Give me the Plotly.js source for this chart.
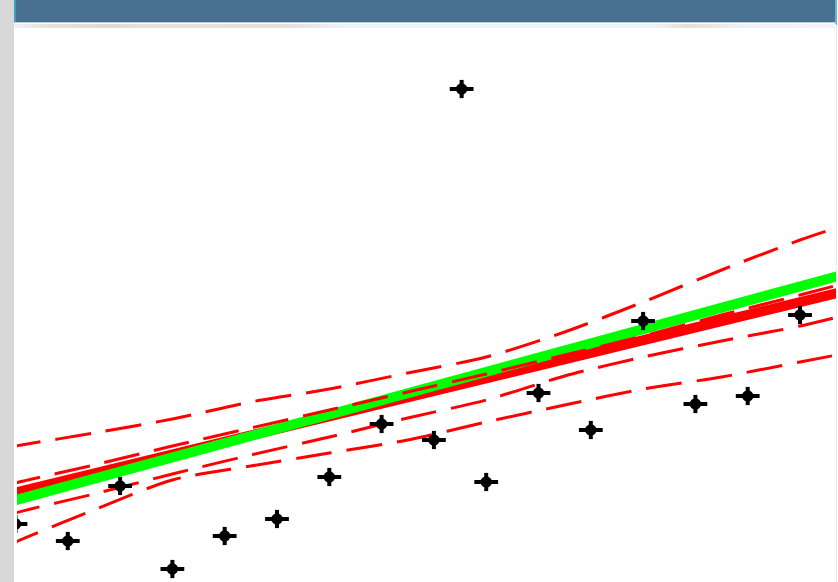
<!DOCTYPE html>
<html>
<head>
<meta charset="utf-8">
<script src="https://cdn.plot.ly/plotly-3.0.1.min.js"></script>
<style>
  html, body { margin: 0; padding: 0; background: #ffffff; }
  #page { position: relative; width: 838px; height: 582px; overflow: hidden; background: #ffffff; }
  #side { position: absolute; left: 0; top: 0; width: 14px; height: 582px; background: #d8d8d8; }
  #bar { position: absolute; left: 14px; top: 0; width: 822px; height: 22px; background: #4a7090; }
  #barEdgeL { position: absolute; left: 14px; top: 0; width: 2px; height: 22px; background: #3d9cc4; }
  #barEdgeR { position: absolute; left: 835px; top: 0; width: 2px; height: 25px; background: #62b6dc; }
  #rule { position: absolute; left: 14px; top: 22px; width: 822px; height: 1px; background: #b9cfdd; }
  #strip { position: absolute; left: 14px; top: 24px; width: 822px; height: 4px;
    background: linear-gradient(90deg, #eef2f5 0%, #e4e2dc 4%, #dcdcd2 12%, #e6e3de 16%, #e3e0dc 33%, #eef2f6 40%, #eef2f6 78%, #e6ded4 82%, #eef1f4 88%, #f2f4f6 100%); }
  #edgeR { position: absolute; left: 836px; top: 25px; width: 1px; height: 557px; background: #e6ecf2; }
  #chart { position: absolute; left: 14px; top: 28px; width: 822px; height: 554px; }
</style>
</head>
<body>
<div id="page">
  <div id="side"></div>
  <div id="bar"></div>
  <div id="barEdgeL"></div>
  <div id="barEdgeR"></div>
  <div id="rule"></div>
  <div id="strip"></div>
  <div id="edgeR"></div>
  <div id="chart"></div>
</div>
<script>
// Observations
const pointX = [1, 2, 3, 4, 5, 6, 7, 8, 9, 9.53, 10, 11, 12, 13, 14, 15, 16];
const pointY = [5.8, 4.1, 9.6, 1.3, 4.6, 6.3, 10.5, 15.8, 14.2, 49.3, 10.0, 18.9, 15.2, 26.1, 17.8, 18.6, 26.7];

// Fitted lines
const fitX = [0.8, 16.8];
const greenFitY = [7.9, 30.7];
const redFitY = [8.7, 29.0];

// Bands around the red fit
const bandX = [0.8, 1, 2.5, 4, 5.5, 7, 8.5, 10, 11.5, 13, 14.5, 16, 16.8];
const outerUpper = [13.4, 13.6, 14.9, 16.3, 18.0, 19.3, 20.9, 22.5, 25.0, 28.0, 31.2, 34.2, 35.6];
const innerUpper = [9.6, 9.9, 11.7, 13.6, 15.4, 17.2, 19.0, 20.8, 22.7, 24.6, 26.7, 28.7, 29.8];
const innerLower = [6.5, 6.9, 8.8, 10.8, 12.7, 14.5, 16.4, 18.2, 20.6, 22.5, 24.1, 25.6, 26.6];
const outerLower = [3.5, 4.0, 7.2, 10.2, 11.6, 12.9, 14.2, 16.0, 17.7, 19.3, 20.5, 22.0, 22.8];

const RED = '#ff0000';
const GREEN = '#00ff00';

function band(y) {
  return {
    x: bandX, y: y, type: 'scatter', mode: 'lines', hoverinfo: 'skip',
    line: { color: RED, width: 3, dash: '36px,15px', shape: 'spline', smoothing: 0.8 }
  };
}

const traces = [
  { x: fitX, y: redFitY, type: 'scatter', mode: 'lines', line: { color: RED, width: 10 } },
  { x: fitX, y: greenFitY, type: 'scatter', mode: 'lines', line: { color: GREEN, width: 10 } },
  band(outerUpper),
  band(innerUpper),
  band(innerLower),
  band(outerLower),
  // point marks: a round body with a horizontal bar and short vertical stubs
  { x: pointX, y: pointY, type: 'scatter', mode: 'markers',
    marker: { symbol: 'circle', size: 11.5, color: '#000000' } },
  { x: pointX, y: pointY, type: 'scatter', mode: 'markers',
    marker: { symbol: 'line-ew', size: 17, line: { color: '#000000', width: 4 } } },
  { x: pointX, y: pointY, type: 'scatter', mode: 'markers',
    marker: { symbol: 'line-ns', size: 13, line: { color: '#000000', width: 4 } } }
];

const hidden = { visible: false, showgrid: false, zeroline: false, fixedrange: true };

const layout = {
  width: 822,
  height: 554,
  margin: { l: 3, r: 0, t: 0, b: 0 },
  paper_bgcolor: '#ffffff',
  plot_bgcolor: '#ffffff',
  showlegend: false,
  xaxis: Object.assign({ range: [1.029, 16.688] }, hidden),
  yaxis: Object.assign({ range: [0, 55.4] }, hidden)
};

Plotly.newPlot('chart', traces, layout, { staticPlot: true, displayModeBar: false });
</script>
</body>
</html>
